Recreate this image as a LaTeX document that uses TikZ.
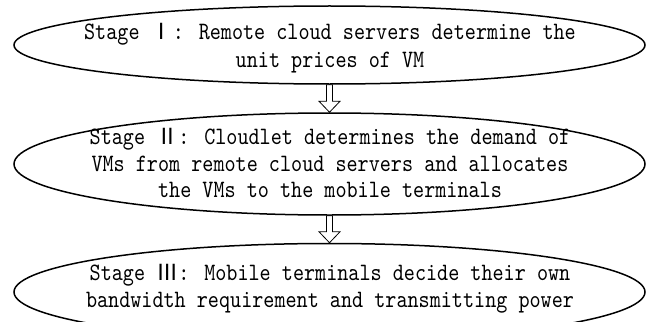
\documentclass[tikz,border=0pt]{standalone}
\usepackage{fontspec}
\newfontfamily\stm{lmmono10-regular.otf}[FakeStretch=0.845]
\newfontfamily\cjk{Noto Sans CJK SC}
\newcommand\rnum[1]{{\cjk\fontsize{22.2}{27}\selectfont #1}}
\tikzset{
  stageell/.style={ellipse, draw=black, line width=1.5pt, inner sep=0pt, minimum width=631pt},
  stagetxt/.style={anchor=base, inner sep=0pt, font=\stm\fontsize{25}{27}\selectfont},
  hollowarrow/.style={draw=black, fill=white, line width=0.8pt, line join=miter}
}
\usetikzlibrary{shapes.geometric,calc}
\begin{document}
\begin{tikzpicture}[x=1pt,y=-1pt]
\useasboundingbox (0,0) rectangle (647,321);
\clip (0,0) rectangle (647,321);
\fill[white] (0,0) rectangle (647,321);
% ellipses
\node[stageell, minimum height=78pt] (e1) at (329.5,45) {};
\node[stageell, minimum height=102pt] (e2) at (329.5,164) {};
\node[stageell, minimum height=97pt] (e3) at (329.5,292) {};
% texts
\node[stagetxt] (t1a) at (330,40) {Stage \rnum{Ⅰ}: Remote cloud servers determine the};
\node[stagetxt] (t1b) at (330,67) {unit prices of VM};
\node[stagetxt] (t2a) at (330,144) {Stage \rnum{Ⅱ}: Cloudlet determines the demand of};
\node[stagetxt] (t2b) at (330,171) {VMs from remote cloud servers and allocates};
\node[stagetxt] (t2c) at (330,197) {the VMs to the mobile terminals};
\node[stagetxt] (t3a) at (330,280) {Stage \rnum{Ⅲ}: Mobile terminals decide their own};
\node[stagetxt] (t3b) at (330,307) {bandwidth requirement and transmitting power};
% hollow arrows
\draw[hollowarrow] let \p1=(e1.south), \p2=(e2.north) in
  (\x1-3pt,\y1) -- (\x1+3pt,\y1) -- (\x1+3pt,\y2+11pt) -- (\x1+10.5pt,\y2+11pt)
  -- (\x1,\y2) -- (\x1-10.5pt,\y2+11pt) -- (\x1-3pt,\y2+11pt) -- cycle;
\draw[hollowarrow] let \p1=(e2.south), \p2=(e3.north) in
  (\x1-3pt,\y1) -- (\x1+3pt,\y1) -- (\x1+3pt,\y2+11pt) -- (\x1+10.5pt,\y2+11pt)
  -- (\x1,\y2) -- (\x1-10.5pt,\y2+11pt) -- (\x1-3pt,\y2+11pt) -- cycle;
\end{tikzpicture}
\end{document}
